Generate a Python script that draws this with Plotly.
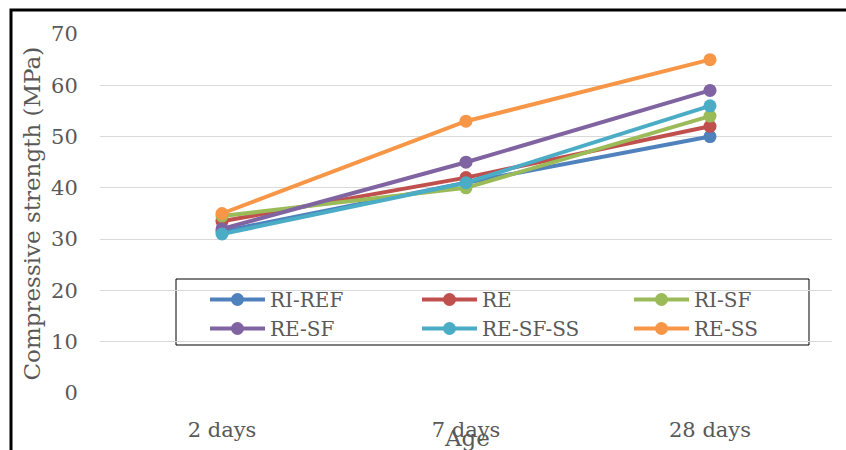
import plotly.graph_objects as go

categories = ["2 days", "7 days", "28 days"]
series_names = ["RI-REF", "RE", "RI-SF", "RE-SF", "RE-SF-SS", "RE-SS"]
ri_ref = [31.5, 41, 50]
re = [33.5, 42, 52]
ri_sf = [34.5, 40, 54]
re_sf = [32, 45, 59]
re_sf_ss = [31, 41, 56]
re_ss = [35, 53, 65]
y_ticks = [0, 10, 20, 30, 40, 50, 60, 70]

series_values = [ri_ref, re, ri_sf, re_sf, re_sf_ss, re_ss]
colors = ["#4F81BD", "#C0504D", "#9BBB59", "#8064A2", "#4BACC6", "#F79646"]

W, H = 846, 450
ML, MR, MT, MB = 100, 14, 34, 57
PW, PH = W - ML - MR, H - MT - MB

def px_x(p):
    return (p - ML) / PW

def px_y(p):
    return (H - MB - p) / PH

FONT = "DejaVu Serif"
GRAY = "#595959"

fig = go.Figure()
for name, vals, col in zip(series_names, series_values, colors):
    fig.add_trace(go.Scatter(
        x=categories, y=vals, name=name, mode="lines+markers",
        line=dict(color=col, width=4),
        marker=dict(color=col, size=13),
    ))

fig.update_layout(
    width=W, height=H,
    margin=dict(l=ML, r=MR, t=MT, b=MB, pad=0, autoexpand=False),
    paper_bgcolor="white", plot_bgcolor="white",
    font=dict(family=FONT, color=GRAY, size=21),
    showlegend=True,
    legend=dict(
        orientation="h",
        x=px_x(205), y=px_y(280), xanchor="left", yanchor="top",
        bgcolor="rgba(0,0,0,0)", borderwidth=0,
        font=dict(family=FONT, size=20, color=GRAY),
        entrywidth=142, entrywidthmode="pixels",
        itemwidth=55,
        traceorder="normal",
    ),
    xaxis=dict(
        type="category", range=[-0.5, 2.5],
        showgrid=False, zeroline=False, showline=False,
        ticks="outside", ticklen=18, tickcolor="rgba(0,0,0,0)",
        tickfont=dict(family=FONT, size=21, color=GRAY),
        fixedrange=True, automargin=False,
    ),
    yaxis=dict(
        range=[0, 70], tickvals=y_ticks, showgrid=True,
        gridcolor="#d9d9d9", gridwidth=1, zeroline=False, showline=False,
        ticks="outside", ticklen=17, tickcolor="rgba(0,0,0,0)",
        tickfont=dict(family=FONT, size=21, color=GRAY),
        fixedrange=True, automargin=False,
    ),
    shapes=[
        # outer frame (left and top visible)
        dict(type="rect", xref="paper", yref="paper",
             x0=px_x(11), x1=1.3, y0=-0.4, y1=px_y(10),
             line=dict(color="black", width=3), layer="above"),
        # legend box
        dict(type="rect", xref="paper", yref="paper",
             x0=px_x(176), x1=px_x(809), y0=px_y(345), y1=px_y(279),
             line=dict(color="black", width=1), fillcolor="white", layer="below"),
    ],
    annotations=[
        dict(text="Compressive strength (MPa)", xref="paper", yref="paper",
             x=px_x(31), y=0.5, xanchor="center", yanchor="middle",
             textangle=-90, showarrow=False,
             font=dict(family=FONT, size=23, color=GRAY)),
        dict(text="Age", xref="paper", yref="paper",
             x=px_x(467), y=px_y(438), xanchor="center", yanchor="middle",
             showarrow=False,
             font=dict(family=FONT, size=23, color=GRAY)),
    ],
)

fig.write_html(
    "out.html",
    config={"displayModeBar": False, "responsive": False},
    post_script="document.body.style.margin='0';document.body.style.padding='0';",
)
